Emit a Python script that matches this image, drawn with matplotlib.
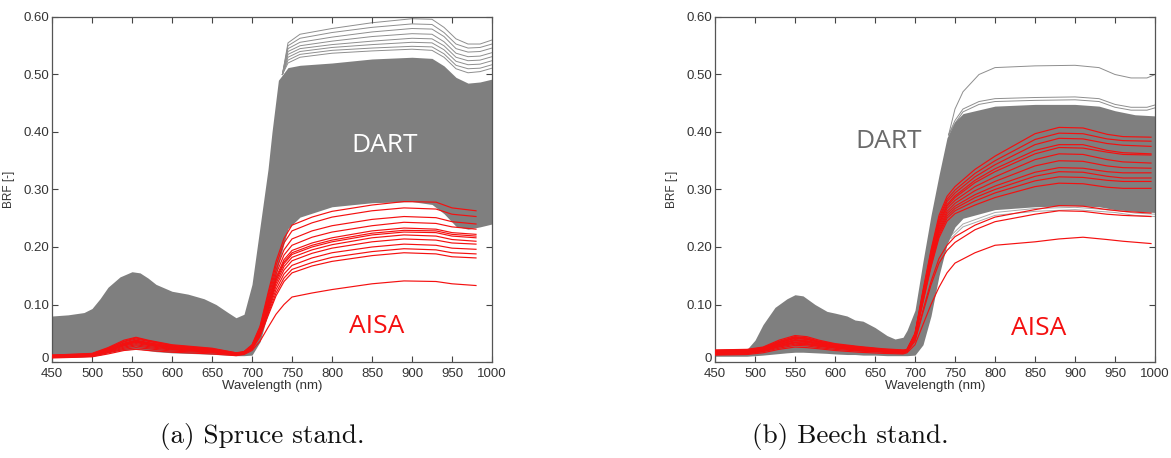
import matplotlib
matplotlib.use("Agg")
import matplotlib.pyplot as plt
import matplotlib.transforms as mtransforms

# ---------------- Spruce stand (a) ----------------
wl_a_grey = [450, 470, 490, 500, 510, 520, 535, 550, 560, 570, 580, 600, 620, 640, 655, 670, 680, 690,
             700, 710, 720, 725, 733, 745, 760, 800, 850, 900, 925, 940, 955, 970, 985, 1000]
dart_a_upper = [0.080, 0.082, 0.086, 0.093, 0.110, 0.130, 0.148, 0.157, 0.155, 0.146, 0.135, 0.123, 0.118,
                0.110, 0.100, 0.086, 0.077, 0.083, 0.135, 0.235, 0.335, 0.400, 0.490, 0.512, 0.516, 0.520,
                0.527, 0.530, 0.528, 0.515, 0.495, 0.485, 0.487, 0.492]
dart_a_lower = [0.008, 0.008, 0.009, 0.010, 0.012, 0.016, 0.020, 0.022, 0.022, 0.020, 0.018, 0.016, 0.015,
                0.014, 0.013, 0.012, 0.011, 0.011, 0.012, 0.035, 0.085, 0.110, 0.170, 0.232, 0.252, 0.270,
                0.277, 0.279, 0.274, 0.258, 0.236, 0.231, 0.235, 0.240]

wl_a_out = [738, 745, 760, 800, 850, 900, 925, 940, 955, 970, 985, 1000]
dart_a_outliers = [
    [0.50, 0.555, 0.570, 0.580, 0.590, 0.597, 0.596, 0.582, 0.562, 0.553, 0.553, 0.560],
    [0.50, 0.550, 0.563, 0.573, 0.582, 0.588, 0.587, 0.573, 0.553, 0.546, 0.547, 0.553],
    [0.50, 0.545, 0.556, 0.565, 0.574, 0.580, 0.579, 0.566, 0.545, 0.539, 0.540, 0.546],
    [0.50, 0.540, 0.550, 0.558, 0.566, 0.571, 0.570, 0.557, 0.537, 0.531, 0.532, 0.538],
    [0.50, 0.535, 0.545, 0.552, 0.558, 0.563, 0.562, 0.550, 0.530, 0.524, 0.525, 0.531],
    [0.50, 0.530, 0.540, 0.547, 0.552, 0.556, 0.555, 0.543, 0.523, 0.517, 0.518, 0.524],
    [0.50, 0.525, 0.535, 0.542, 0.546, 0.549, 0.548, 0.536, 0.516, 0.510, 0.511, 0.517],
    [0.50, 0.520, 0.530, 0.537, 0.541, 0.544, 0.542, 0.530, 0.510, 0.503, 0.505, 0.511],
]

wl_a_red = [450, 500, 520, 540, 555, 570, 600, 650, 680,
            690, 700, 710, 720, 730, 740,
            750, 775, 800, 850, 890, 930, 950, 980]
aisa_a_vis = [
    [0.012, 0.014, 0.024, 0.036, 0.042, 0.037, 0.029, 0.023, 0.016],
    [0.011, 0.014, 0.023, 0.035, 0.040, 0.036, 0.028, 0.022, 0.015],
    [0.010, 0.013, 0.021, 0.032, 0.037, 0.033, 0.026, 0.021, 0.015],
    [0.012, 0.015, 0.025, 0.038, 0.043, 0.038, 0.030, 0.024, 0.016],
    [0.010, 0.012, 0.020, 0.030, 0.035, 0.031, 0.025, 0.020, 0.014],
    [0.011, 0.013, 0.022, 0.033, 0.038, 0.034, 0.027, 0.022, 0.015],
    [0.009, 0.012, 0.019, 0.028, 0.032, 0.029, 0.023, 0.019, 0.014],
    [0.010, 0.013, 0.021, 0.031, 0.036, 0.032, 0.026, 0.021, 0.015],
    [0.009, 0.011, 0.018, 0.026, 0.030, 0.027, 0.022, 0.018, 0.013],
    [0.010, 0.012, 0.020, 0.029, 0.034, 0.030, 0.024, 0.020, 0.014],
    [0.008, 0.011, 0.017, 0.024, 0.028, 0.025, 0.021, 0.017, 0.013],
    [0.008, 0.010, 0.016, 0.022, 0.025, 0.023, 0.019, 0.016, 0.012],
    [0.007, 0.009, 0.014, 0.020, 0.022, 0.020, 0.017, 0.014, 0.011],
]
aisa_a_edge = [
    [0.018, 0.030, 0.062, 0.120, 0.175, 0.215],
    [0.018, 0.029, 0.060, 0.115, 0.168, 0.207],
    [0.017, 0.028, 0.058, 0.110, 0.160, 0.195],
    [0.017, 0.027, 0.056, 0.105, 0.153, 0.186],
    [0.017, 0.027, 0.055, 0.101, 0.147, 0.178],
    [0.016, 0.026, 0.054, 0.099, 0.144, 0.174],
    [0.016, 0.026, 0.053, 0.097, 0.141, 0.171],
    [0.016, 0.025, 0.051, 0.094, 0.137, 0.166],
    [0.015, 0.025, 0.050, 0.091, 0.132, 0.160],
    [0.015, 0.024, 0.048, 0.087, 0.126, 0.153],
    [0.015, 0.023, 0.046, 0.083, 0.120, 0.146],
    [0.014, 0.022, 0.044, 0.080, 0.115, 0.140],
    [0.013, 0.020, 0.036, 0.060, 0.083, 0.100],
]
aisa_a_nir = [
    [0.238, 0.252, 0.262, 0.273, 0.279, 0.278, 0.268, 0.263],
    [0.228, 0.242, 0.252, 0.263, 0.268, 0.266, 0.257, 0.253],
    [0.214, 0.228, 0.237, 0.248, 0.253, 0.251, 0.244, 0.240],
    [0.203, 0.217, 0.226, 0.237, 0.243, 0.241, 0.235, 0.231],
    [0.194, 0.207, 0.216, 0.228, 0.233, 0.231, 0.225, 0.222],
    [0.190, 0.203, 0.212, 0.224, 0.229, 0.228, 0.222, 0.219],
    [0.187, 0.200, 0.209, 0.221, 0.226, 0.225, 0.219, 0.216],
    [0.182, 0.195, 0.204, 0.216, 0.221, 0.219, 0.213, 0.210],
    [0.176, 0.189, 0.198, 0.209, 0.214, 0.212, 0.207, 0.205],
    [0.168, 0.181, 0.190, 0.200, 0.205, 0.203, 0.198, 0.196],
    [0.161, 0.173, 0.182, 0.192, 0.197, 0.195, 0.190, 0.188],
    [0.155, 0.167, 0.175, 0.185, 0.190, 0.188, 0.183, 0.181],
    [0.113, 0.120, 0.126, 0.136, 0.141, 0.140, 0.136, 0.133],
]

# ---------------- Beech stand (b) ----------------
wl_b_grey = [450, 490, 500, 510, 525, 540, 550, 560, 575, 590, 600, 615, 625, 635, 650, 665, 675, 685, 690,
             700, 710, 720, 730, 740, 750, 760, 800, 850, 900, 930, 950, 975, 1000]
dart_b_upper = [0.020, 0.022, 0.038, 0.065, 0.095, 0.110, 0.117, 0.115, 0.100, 0.088, 0.085, 0.080, 0.073,
                0.071, 0.060, 0.046, 0.040, 0.043, 0.055, 0.090, 0.175, 0.255, 0.325, 0.390, 0.418, 0.432,
                0.445, 0.448, 0.448, 0.445, 0.437, 0.430, 0.428]
dart_b_lower = [0.010, 0.010, 0.011, 0.012, 0.014, 0.016, 0.017, 0.017, 0.016, 0.015, 0.014, 0.013, 0.013,
                0.012, 0.012, 0.011, 0.011, 0.011, 0.011, 0.012, 0.030, 0.080, 0.150, 0.205, 0.235, 0.250,
                0.265, 0.270, 0.272, 0.270, 0.265, 0.262, 0.260]

wl_b_out = [742, 750, 760, 780, 800, 850, 900, 930, 950, 970, 990, 1000]
dart_b_outliers = [
    [0.395, 0.440, 0.470, 0.500, 0.512, 0.515, 0.516, 0.512, 0.500, 0.494, 0.494, 0.500],
    [0.395, 0.420, 0.440, 0.453, 0.458, 0.460, 0.461, 0.458, 0.448, 0.443, 0.443, 0.447],
    [0.395, 0.415, 0.435, 0.448, 0.453, 0.455, 0.456, 0.453, 0.443, 0.438, 0.438, 0.442],
]
wl_b_low = [745, 760, 800, 850, 900, 950, 975, 1000]
dart_b_low_lines = [
    [0.215, 0.235, 0.255, 0.262, 0.265, 0.260, 0.255, 0.253],
    [0.220, 0.240, 0.260, 0.267, 0.269, 0.264, 0.259, 0.257],
]

wl_b_red = [450, 490, 510, 530, 550, 565, 580, 600, 630, 660, 685,
            690, 700, 710, 720, 730, 740,
            750, 775, 800, 850, 880, 910, 940, 960, 995]
aisa_b_vis = [
    [0.020, 0.021, 0.025, 0.036, 0.044, 0.042, 0.036, 0.031, 0.026, 0.022, 0.020],
    [0.018, 0.019, 0.023, 0.033, 0.041, 0.039, 0.034, 0.029, 0.025, 0.021, 0.019],
    [0.016, 0.017, 0.021, 0.030, 0.037, 0.035, 0.031, 0.027, 0.023, 0.020, 0.018],
    [0.021, 0.022, 0.026, 0.038, 0.046, 0.044, 0.038, 0.032, 0.027, 0.023, 0.021],
    [0.015, 0.016, 0.020, 0.028, 0.034, 0.032, 0.029, 0.025, 0.021, 0.019, 0.017],
    [0.019, 0.020, 0.024, 0.034, 0.042, 0.040, 0.035, 0.030, 0.025, 0.021, 0.019],
    [0.017, 0.018, 0.022, 0.031, 0.038, 0.036, 0.032, 0.028, 0.024, 0.020, 0.018],
    [0.014, 0.015, 0.019, 0.026, 0.031, 0.030, 0.027, 0.024, 0.020, 0.018, 0.016],
    [0.020, 0.021, 0.025, 0.035, 0.043, 0.041, 0.036, 0.030, 0.026, 0.022, 0.020],
    [0.016, 0.017, 0.021, 0.029, 0.035, 0.034, 0.030, 0.026, 0.022, 0.019, 0.017],
    [0.018, 0.019, 0.023, 0.032, 0.039, 0.037, 0.033, 0.028, 0.024, 0.021, 0.018],
    [0.013, 0.014, 0.018, 0.024, 0.029, 0.028, 0.025, 0.022, 0.019, 0.017, 0.015],
    [0.015, 0.016, 0.020, 0.027, 0.033, 0.031, 0.028, 0.025, 0.021, 0.018, 0.016],
    [0.012, 0.013, 0.016, 0.022, 0.026, 0.025, 0.023, 0.020, 0.017, 0.015, 0.014],
]
aisa_b_edge = [
    [0.022, 0.050, 0.125, 0.195, 0.255, 0.288],
    [0.022, 0.049, 0.122, 0.191, 0.250, 0.283],
    [0.021, 0.048, 0.120, 0.188, 0.246, 0.279],
    [0.021, 0.047, 0.118, 0.185, 0.242, 0.274],
    [0.021, 0.047, 0.116, 0.183, 0.239, 0.271],
    [0.020, 0.046, 0.114, 0.180, 0.235, 0.267],
    [0.020, 0.045, 0.112, 0.177, 0.231, 0.262],
    [0.020, 0.044, 0.110, 0.174, 0.227, 0.258],
    [0.019, 0.044, 0.108, 0.171, 0.224, 0.254],
    [0.019, 0.043, 0.106, 0.168, 0.220, 0.250],
    [0.019, 0.042, 0.104, 0.165, 0.216, 0.245],
    [0.018, 0.038, 0.090, 0.140, 0.180, 0.203],
    [0.018, 0.036, 0.086, 0.134, 0.172, 0.194],
    [0.016, 0.030, 0.065, 0.100, 0.130, 0.155],
]
aisa_b_nir = [
    [0.305, 0.335, 0.358, 0.397, 0.408, 0.407, 0.396, 0.392, 0.391],
    [0.299, 0.328, 0.350, 0.387, 0.398, 0.397, 0.388, 0.385, 0.384],
    [0.294, 0.322, 0.343, 0.378, 0.389, 0.388, 0.380, 0.377, 0.375],
    [0.289, 0.316, 0.336, 0.368, 0.378, 0.378, 0.368, 0.364, 0.362],
    [0.286, 0.312, 0.331, 0.362, 0.373, 0.372, 0.365, 0.361, 0.360],
    [0.281, 0.305, 0.322, 0.352, 0.362, 0.361, 0.352, 0.348, 0.346],
    [0.276, 0.298, 0.314, 0.341, 0.350, 0.349, 0.341, 0.338, 0.337],
    [0.271, 0.291, 0.306, 0.330, 0.338, 0.337, 0.331, 0.329, 0.329],
    [0.267, 0.286, 0.300, 0.323, 0.331, 0.330, 0.323, 0.320, 0.320],
    [0.263, 0.280, 0.294, 0.315, 0.322, 0.321, 0.316, 0.314, 0.314],
    [0.258, 0.273, 0.286, 0.305, 0.311, 0.310, 0.304, 0.302, 0.302],
    [0.218, 0.238, 0.252, 0.265, 0.272, 0.271, 0.265, 0.262, 0.259],
    [0.208, 0.230, 0.244, 0.257, 0.263, 0.262, 0.257, 0.255, 0.253],
    [0.172, 0.190, 0.203, 0.209, 0.214, 0.217, 0.213, 0.210, 0.206],
]

x_ticks = [450, 500, 550, 600, 650, 700, 750, 800, 850, 900, 950, 1000]
y_ticks = [0, 0.10, 0.20, 0.30, 0.40, 0.50, 0.60]
y_tick_labels = ["0", "0.10", "0.20", "0.30", "0.40", "0.50", "0.60"]
captions = ["(a) Spruce stand.", "(b) Beech stand."]

GREY = "#7f7f7f"
LIGHT = "#8e8e8e"
RED = "#f41010"
TICKFONT = ["Liberation Sans Narrow", "Liberation Sans", "DejaVu Sans"]
LABELFONT = ["Open Sans", "DejaVu Sans"]

fig = plt.figure(figsize=(11.71, 4.58), dpi=100)
ax_a = fig.add_axes([52 / 1171, 1 - 362 / 458, 440 / 1171, 345 / 458])
ax_b = fig.add_axes([715 / 1171, 1 - 362 / 458, 440 / 1171, 345 / 458])


def style(ax):
    ax.set_xlim(450, 1000)
    ax.set_ylim(0, 0.60)
    ax.set_xticks(x_ticks)
    ax.set_yticks(y_ticks)
    ax.set_yticklabels(y_tick_labels)
    ax.tick_params(direction="in", top=True, right=True, length=4, width=0.8,
                   colors="#444444", labelsize=9.5, pad=2)
    ax.tick_params(axis="x", pad=4)
    for lab in ax.get_xticklabels() + ax.get_yticklabels():
        lab.set_family(TICKFONT)
        lab.set_color("#333333")
    # lift the "0" label a little above the x tick labels
    zero = ax.get_yticklabels()[0]
    zero.set_transform(zero.get_transform() + mtransforms.ScaledTranslation(0, 3 / 72, fig.dpi_scale_trans))
    for sp in ax.spines.values():
        sp.set_color("#555555")
        sp.set_linewidth(0.9)
    ax.set_xlabel("Wavelength (nm)", family=TICKFONT, fontsize=9.5, color="#333333", labelpad=0)
    ax.set_ylabel("BRF [-]", family=TICKFONT, fontsize=8.5, color="#333333")
    ax.yaxis.set_label_coords(-0.085, 0.5)


def red_curves(ax, wl, vis, edge, nir):
    for v, e, n in zip(vis, edge, nir):
        ax.plot(wl, list(v) + list(e) + list(n), color=RED, lw=0.85, solid_joinstyle="round", zorder=4)


# panel a
ax_a.fill_between(wl_a_grey, dart_a_lower, dart_a_upper, color=GREY, lw=0, zorder=2)
for o in dart_a_outliers:
    ax_a.plot(wl_a_out, o, color=LIGHT, lw=0.7, zorder=1)
red_curves(ax_a, wl_a_red, aisa_a_vis, aisa_a_edge, aisa_a_nir)
ax_a.text(866, 0.377, "DART", color="white", fontsize=19, family=LABELFONT,
          ha="center", va="center", zorder=6)
ax_a.text(856, 0.061, "AISA", color=RED, fontsize=19, family=LABELFONT,
          ha="center", va="center", zorder=6)
style(ax_a)

# panel b
ax_b.fill_between(wl_b_grey, dart_b_lower, dart_b_upper, color=GREY, lw=0, zorder=2)
for o in dart_b_outliers:
    ax_b.plot(wl_b_out, o, color=LIGHT, lw=0.7, zorder=1)
for o in dart_b_low_lines:
    ax_b.plot(wl_b_low, o, color="#a8a8a8", lw=0.7, zorder=1)
red_curves(ax_b, wl_b_red, aisa_b_vis, aisa_b_edge, aisa_b_nir)
ax_b.text(667, 0.384, "DART", color="#6a6a6a", fontsize=19, family=LABELFONT,
          ha="center", va="center", zorder=6)
ax_b.text(855, 0.058, "AISA", color=RED, fontsize=19, family=LABELFONT,
          ha="center", va="center", zorder=6)
style(ax_b)

fig.text(262 / 1171, 1 - 437 / 458, captions[0], family=["cmr10", "DejaVu Serif"], fontsize=19.5,
         ha="center", va="center", color="#111111")
fig.text(850 / 1171, 1 - 437 / 458, captions[1], family=["cmr10", "DejaVu Serif"], fontsize=19.5,
         ha="center", va="center", color="#111111")

fig.savefig("out.png", dpi=100)
